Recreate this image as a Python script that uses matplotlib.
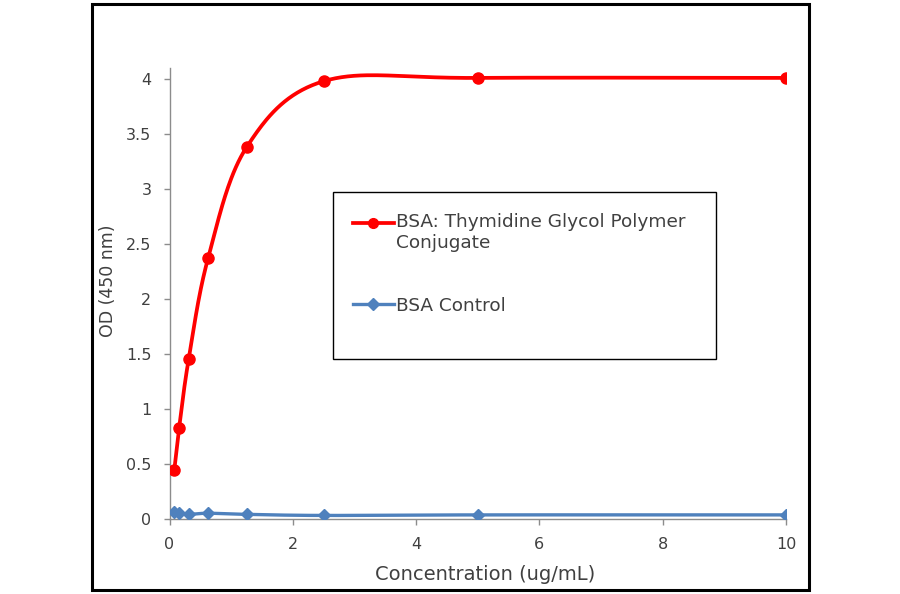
import numpy as np
import matplotlib
matplotlib.use("Agg")
import matplotlib.pyplot as plt
from matplotlib.patches import Rectangle
from matplotlib.ticker import FuncFormatter
from matplotlib.lines import Line2D

# ---- data ----
conc = [0.078, 0.156, 0.3125, 0.625, 1.25, 2.5, 5, 10]
od_conjugate = [0.45, 0.83, 1.46, 2.37, 3.38, 3.98, 4.01, 4.01]
od_control = [0.07, 0.06, 0.045, 0.055, 0.045, 0.035, 0.04, 0.04]
label_conjugate = "BSA: Thymidine Glycol Polymer\nConjugate"
label_control = "BSA Control"
x_ticks = [0, 2, 4, 6, 8, 10]
y_ticks = [0, 0.5, 1, 1.5, 2, 2.5, 3, 3.5, 4]
x_label = "Concentration (ug/mL)"
y_label = "OD (450 nm)"

RED = "#FF0000"
BLUE = "#4F81BD"
TXT = "#404040"
AXC = "#8C8C8C"

plt.rcParams['font.family'] = ['DejaVu Sans']

fig = plt.figure(figsize=(9, 5.94), dpi=100)
ax = fig.add_axes([169.5/900, 1-519.3/594, (786-169.5)/900, (519.3-68)/594])
ax.set_xlim(0, 10)
ax.set_ylim(0, 4.1)


def excel_smooth(ax, xs, ys, n=40):
    """Bezier (Catmull-Rom style, Excel-like) smoothing computed in display space."""
    pts = ax.transData.transform(np.column_stack([xs, ys]))
    m = len(pts)
    out = [pts[0]]
    for i in range(m - 1):
        p0 = pts[i - 1] if i > 0 else pts[i]
        p1 = pts[i]
        p2 = pts[i + 1]
        p3 = pts[i + 2] if i + 2 < m else pts[i + 1]
        c1 = p1 + (p2 - p0) / 6.0
        c2 = p2 - (p3 - p1) / 6.0
        t = np.linspace(0, 1, n)[1:, None]
        seg = ((1 - t) ** 3) * p1 + 3 * ((1 - t) ** 2) * t * c1 + 3 * (1 - t) * t ** 2 * c2 + t ** 3 * p2
        out.extend(seg)
    out = np.array(out)
    data = ax.transData.inverted().transform(out)
    return data[:, 0], data[:, 1]


sx, sy = excel_smooth(ax, conc, od_conjugate)
ax.plot(sx, sy, color=RED, lw=2.7, solid_capstyle='round', zorder=3)
ax.plot(conc, od_conjugate, linestyle='none', marker='o', ms=8, color=RED, zorder=4)
bx, by = excel_smooth(ax, conc, od_control)
ax.plot(bx, by, color=BLUE, lw=2.4, zorder=3)
ax.plot(conc, od_control, linestyle='none', marker='D', ms=6.5, color=BLUE, zorder=4)

for s in ['top', 'right']:
    ax.spines[s].set_visible(False)
for s in ['left', 'bottom']:
    ax.spines[s].set_color(AXC)
    ax.spines[s].set_linewidth(1.0)

ax.set_xticks(x_ticks)
ax.set_yticks(y_ticks)
ax.yaxis.set_major_formatter(FuncFormatter(lambda v, p: f"{v:g}"))
ax.tick_params(axis='both', direction='out', length=4, width=1, color=AXC,
               labelsize=11.5, labelcolor=TXT)
ax.tick_params(axis='x', pad=9)
ax.tick_params(axis='y', pad=9)

ax.set_xlabel(x_label, fontsize=14, color=TXT)
ax.set_ylabel(y_label, fontsize=12.5, color=TXT)
ax.xaxis.set_label_coords((485-169.5)/616.5, -(565-519.3)/451.3)
ax.yaxis.set_label_coords(-(169.5-117)/616.5, (519.3-281)/451.3)

# legend
h1 = Line2D([], [], color=RED, lw=2.7, marker='o', ms=7)
h2 = Line2D([], [], color=BLUE, lw=2.4, marker='D', ms=6)
leg = ax.legend([h1, h2], [label_conjugate, label_control], loc='upper left',
                bbox_to_anchor=(353/900, 1-213/594), bbox_transform=fig.transFigure,
                frameon=False, fontsize=13.3, handlelength=2.2, handletextpad=0.12,
                labelspacing=2.4, borderpad=0, borderaxespad=0)
for t in leg.get_texts():
    t.set_color(TXT)
    t.set_linespacing(1.25)
lh = leg.legend_handles[0]
yd = np.asarray(lh.get_ydata(), dtype=float)
lh.set_ydata(yd + 7.5)

fig.add_artist(Rectangle((333/900, 1-359/594), 383/900, 167/594, transform=fig.transFigure,
                         fill=False, edgecolor='black', lw=1.0))
fig.add_artist(Rectangle((92/900, 1-590/594), (809-92)/900, (590-4)/594, transform=fig.transFigure,
                         fill=False, edgecolor='black', lw=2.2))

fig.savefig("out.png", dpi=100)
